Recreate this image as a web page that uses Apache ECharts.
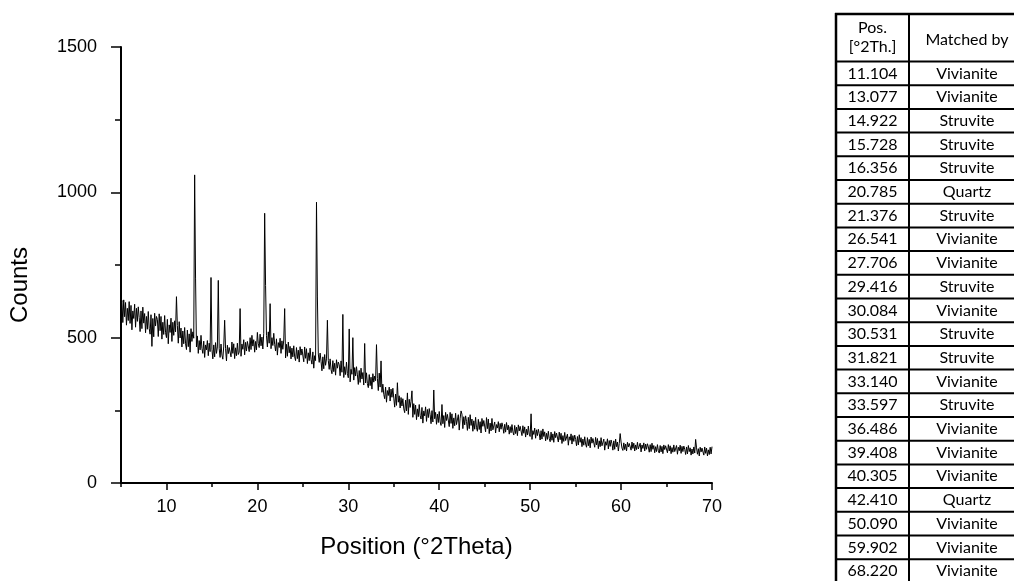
<!DOCTYPE html>
<html>
<head>
<meta charset="utf-8">
<script src="https://cdn.jsdelivr.net/npm/echarts@6/dist/echarts.min.js"></script>
<style>
  html, body { margin: 0; padding: 0; background: #fff; }
  #chart { width: 1014px; height: 581px; }
</style>
</head>
<body>
<div id="chart"></div>
<script>
// XRD scan: counts on a regular 2-theta grid (start 5°, step 0.1°), one row per degree
const twoThetaStart = 5;
const twoThetaStep = 0.1;
const counts = [
  611, 628, 552, 630, 572, 621, 543, 601, 559, 624,   // 5
  549, 611, 527, 592, 566, 615, 536, 601, 556, 606,   // 6
  570, 521, 592, 531, 605, 550, 583, 517, 573, 529,   // 7
  590, 532, 512, 579, 470, 566, 503, 584, 540, 573,   // 8
  563, 504, 582, 524, 573, 495, 553, 511, 576, 517,   // 9
  500, 563, 479, 544, 518, 567, 487, 553, 508, 558,   // 10
  520, 641, 542, 481, 555, 499, 533, 468, 523, 479,   // 11
  535, 479, 459, 526, 469, 513, 450, 531, 487, 520,   // 12
  498, 1060, 705, 468, 506, 446, 490, 458, 508, 463,  // 13
  446, 488, 432, 475, 458, 490, 438, 481, 452, 707,   // 14
  460, 427, 475, 434, 483, 446, 468, 697, 462, 432,   // 15
  478, 440, 426, 471, 560, 462, 420, 474, 445, 466,   // 16
  472, 434, 485, 446, 479, 428, 465, 438, 481, 442,   // 17
  450, 600, 436, 478, 460, 493, 441, 484, 454, 487,   // 18
  485, 452, 500, 459, 508, 471, 493, 450, 487, 458,   // 19
  518, 479, 466, 512, 472, 502, 461, 515, 928, 680,   // 20
  507, 468, 520, 481, 617, 462, 500, 473, 515, 477,   // 21
  454, 496, 440, 483, 466, 498, 446, 489, 460, 492,   // 22
  600, 430, 477, 436, 485, 448, 470, 427, 464, 434,   // 23
  472, 434, 421, 466, 428, 457, 416, 469, 440, 461,   // 24
  455, 417, 468, 429, 462, 411, 448, 421, 464, 425,   // 25
  409, 451, 395, 438, 421, 966, 640, 444, 415, 447,   // 26
  419, 386, 434, 393, 442, 405, 427, 560, 421, 391,   // 27
  427, 390, 376, 421, 383, 412, 371, 424, 395, 416,   // 28
  407, 369, 420, 381, 580, 363, 400, 373, 416, 377,   // 29
  362, 530, 348, 391, 374, 500, 354, 397, 368, 400,   // 30
  372, 339, 387, 346, 395, 358, 380, 337, 480, 344,   // 31
  379, 342, 328, 373, 335, 364, 323, 376, 347, 368,   // 32
  352, 476, 360, 318, 378, 330, 420, 312, 340, 305,   // 33
  290, 330, 278, 318, 301, 330, 282, 323, 295, 326,   // 34
  292, 261, 306, 267, 345, 278, 300, 258, 294, 265,   // 35
  290, 255, 242, 285, 248, 310, 236, 288, 260, 281,   // 36
  317, 226, 273, 236, 268, 218, 255, 228, 270, 232,   // 37
  220, 260, 206, 248, 231, 262, 212, 253, 225, 256,   // 38
  235, 204, 249, 210, 320, 221, 243, 202, 237, 208,   // 39
  246, 210, 198, 270, 204, 232, 191, 243, 215, 236,   // 40
  231, 194, 243, 205, 238, 188, 224, 197, 240, 201,   // 41
  195, 235, 182, 223, 248, 237, 187, 228, 200, 231,   // 42
  212, 181, 226, 187, 235, 198, 220, 178, 214, 185,   // 43
  226, 190, 178, 219, 184, 211, 172, 222, 195, 215,   // 44
  213, 176, 225, 187, 220, 170, 206, 179, 222, 183,   // 45
  182, 210, 172, 201, 189, 211, 176, 205, 185, 207,   // 46
  193, 171, 202, 175, 208, 183, 199, 168, 194, 173,   // 47
  201, 176, 165, 198, 170, 192, 163, 200, 179, 195,   // 48
  189, 163, 197, 171, 193, 158, 185, 165, 196, 168,   // 49
  160, 238, 150, 180, 167, 189, 154, 183, 163, 185,   // 50
  170, 148, 180, 151, 186, 160, 176, 145, 171, 150,   // 51
  178, 153, 142, 175, 147, 169, 140, 177, 156, 172,   // 52
  167, 141, 175, 149, 171, 136, 163, 143, 174, 146,   // 53
  140, 168, 130, 159, 147, 169, 134, 163, 143, 165,   // 54
  150, 128, 160, 131, 166, 140, 156, 125, 151, 130,   // 55
  159, 134, 123, 156, 128, 150, 121, 158, 137, 153,   // 56
  149, 123, 157, 131, 153, 118, 145, 125, 156, 128,   // 57
  123, 151, 113, 142, 130, 152, 117, 146, 126, 148,   // 58
  135, 113, 145, 116, 151, 125, 141, 110, 136, 170,   // 59
  141, 120, 112, 138, 115, 134, 110, 140, 124, 136,   // 60
  134, 113, 141, 119, 137, 110, 131, 115, 140, 117,   // 61
  114, 137, 107, 131, 119, 138, 110, 134, 116, 135,   // 62
  124, 106, 132, 108, 137, 116, 129, 104, 125, 108,   // 63
  132, 111, 103, 129, 107, 126, 101, 131, 115, 128,   // 64
  125, 104, 132, 110, 128, 101, 122, 106, 131, 108,   // 65
  106, 129, 99, 123, 111, 130, 102, 126, 108, 127,    // 66
  116, 98, 124, 100, 129, 108, 121, 96, 117, 100,     // 67
  124, 103, 150, 121, 99, 118, 93, 123, 107, 120,     // 68
  117, 96, 124, 102, 120, 93, 114, 98, 123, 100,      // 69
  125                                                 // 70
];

// Axis ticks
const xMajorTicks = [10, 20, 30, 40, 50, 60, 70];
const xMinorTicks = [5, 15, 25, 35, 45, 55, 65];
const yTicks = [0, 500, 1000, 1500];

// Phase identification table
const tableHeaderPos = ['Pos.', '[°2Th.]'];
const tableHeaderPhase = 'Matched by';
const peakPositions = ['11.104', '13.077', '14.922', '15.728', '16.356', '20.785', '21.376',
  '26.541', '27.706', '29.416', '30.084', '30.531', '31.821', '33.140', '33.597', '36.486',
  '39.408', '40.305', '42.410', '50.090', '59.902', '68.220'];
const matchedPhases = ['Vivianite', 'Vivianite', 'Struvite', 'Struvite', 'Struvite', 'Quartz',
  'Struvite', 'Vivianite', 'Vivianite', 'Struvite', 'Vivianite', 'Struvite', 'Struvite',
  'Vivianite', 'Struvite', 'Vivianite', 'Vivianite', 'Vivianite', 'Quartz', 'Vivianite',
  'Vivianite', 'Vivianite'];

const scan = counts.map((c, i) => [+(twoThetaStart + i * twoThetaStep).toFixed(1), c]);

const tickFont = "'Liberation Sans', Arial, sans-serif";
const titleFont = "'Liberation Sans', Arial, sans-serif";
const tableFont = "Lato, 'Noto Sans', sans-serif";

// Table layout
const tbl = { left: 836, mid: 909, right: 1030, top: 14, headBottom: 61.5, rowH: 23.7 };
const tableEls = [];
const hLine = (y, w) => ({
  type: 'line', z: 10, silent: true,
  shape: { x1: tbl.left - 1, y1: y, x2: tbl.right, y2: y },
  style: { stroke: '#000', lineWidth: w }
});
const vLine = (x, w) => ({
  type: 'line', z: 10, silent: true,
  shape: { x1: x, y1: tbl.top - 1, x2: x, y2: 600 },
  style: { stroke: '#000', lineWidth: w }
});
const cellText = (txt, x, y) => ({
  type: 'text', z: 11, silent: true, x: x, y: y,
  style: { text: txt, fill: '#000', font: '16px ' + tableFont, align: 'center', verticalAlign: 'middle' }
});
tableEls.push(hLine(tbl.top, 2.5));
tableEls.push(hLine(tbl.headBottom, 2));
peakPositions.forEach((p, i) => {
  const y0 = tbl.headBottom + i * tbl.rowH;
  if (i > 0) tableEls.push(hLine(y0, 2));
  const yc = y0 + tbl.rowH / 2;
  tableEls.push(cellText(p, (tbl.left + tbl.mid) / 2, yc));
  tableEls.push(cellText(matchedPhases[i], 967, yc));
});
tableEls.push(vLine(tbl.left, 2.5));
tableEls.push(vLine(tbl.mid, 2));
tableEls.push(cellText(tableHeaderPos[0], (tbl.left + tbl.mid) / 2, 28));
tableEls.push(cellText(tableHeaderPos[1], (tbl.left + tbl.mid) / 2, 47));
tableEls.push(cellText(tableHeaderPhase, 967, 40));

const chart = echarts.init(document.getElementById('chart'), null, { renderer: 'canvas' });
chart.setOption({
  backgroundColor: '#fff',
  animation: false,
  grid: { left: 119, top: 47, width: 593, height: 436, containLabel: false },
  xAxis: [{
    type: 'value', min: 5, max: 70, interval: 5,
    name: 'Position (°2Theta)', nameLocation: 'middle', nameGap: 52,
    nameTextStyle: { fontFamily: titleFont, fontSize: 24, color: '#000' },
    axisLine: { show: true, onZero: false, lineStyle: { color: '#000', width: 2 } },
    axisTick: { show: true, customValues: xMajorTicks, length: 7, lineStyle: { color: '#000', width: 1.5 } },
    axisLabel: { customValues: xMajorTicks, margin: 15, color: '#000', fontFamily: tickFont, fontSize: 18,
                 formatter: v => String(v) },
    splitLine: { show: false }
  }, {
    type: 'value', min: 5, max: 70, interval: 5, position: 'bottom',
    axisLine: { show: false, onZero: false },
    axisTick: { show: true, customValues: xMinorTicks, length: 4, lineStyle: { color: '#000', width: 1.5 } },
    axisLabel: { show: false },
    splitLine: { show: false }
  }],
  yAxis: {
    type: 'value', min: 0, max: 1500, interval: 500,
    name: 'Counts', nameLocation: 'middle', nameGap: 89,
    nameTextStyle: { fontFamily: titleFont, fontSize: 24, color: '#000', padding: [0, 40, 0, 0] },
    axisLine: { show: true, lineStyle: { color: '#000', width: 2 } },
    axisTick: { show: true, length: 10, lineStyle: { color: '#000', width: 1.5 } },
    minorTick: { show: true, splitNumber: 2, length: 6, lineStyle: { color: '#000', width: 1.5 } },
    axisLabel: { customValues: yTicks, margin: 24, color: '#000', fontFamily: tickFont, fontSize: 18,
                 formatter: v => String(v) },
    splitLine: { show: false },
    minorSplitLine: { show: false }
  },
  series: [{
    type: 'line', xAxisIndex: 0, data: scan,
    showSymbol: false, symbol: 'none', sampling: null,
    lineStyle: { color: '#000', width: 1 },
    silent: true
  }],
  graphic: { elements: tableEls }
});
</script>
</body>
</html>
